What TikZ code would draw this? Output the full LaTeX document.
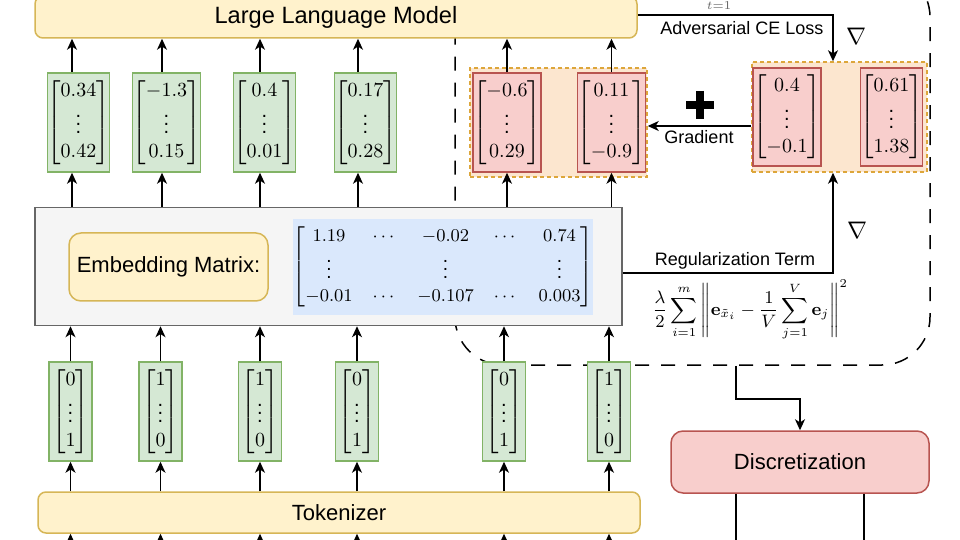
\documentclass[tikz,border=0pt]{standalone}
\usepackage{amsmath,amssymb}
\usepackage[no-math]{fontspec}
\setmainfont{Liberation Sans}
\usetikzlibrary{arrows.meta,calc}
\definecolor{yfill}{HTML}{FFF2CC}\definecolor{ydraw}{HTML}{D6B656}
\definecolor{gfill}{HTML}{D5E8D4}\definecolor{gdraw}{HTML}{82B366}
\definecolor{rfill}{HTML}{F8CECC}\definecolor{rdraw}{HTML}{B85450}
\definecolor{ofill}{HTML}{FCE6CF}\definecolor{odraw}{HTML}{DDA63A}
\definecolor{bfill}{HTML}{DAE8FC}
\definecolor{efill}{HTML}{F5F5F5}\definecolor{edraw}{HTML}{666666}
\newcommand{\vmath}[1]{{\fontsize{10}{12}\selectfont$#1$}}
\begin{document}
\begin{tikzpicture}[x=0.5pt,y=-0.5pt,
  >={Stealth[length=5.5pt,width=5pt,inset=1.6pt]},
  box/.style={draw, line width=0.75pt, inner sep=0pt, align=center},
  ybox/.style={box, fill=yfill, draw=ydraw, rounded corners=4pt, font=\fontsize{11}{13}\selectfont},
  gvec/.style={box, fill=gfill, draw=gdraw, minimum width=30.5pt, minimum height=49.5pt},
  ohvec/.style={box, fill=gfill, draw=gdraw, minimum width=21.5pt, minimum height=49.5pt},
  rvec/.style={box, fill=rfill, draw=rdraw, minimum width=30.5pt, minimum height=49.5pt},
  ogrp/.style={fill=ofill, draw=odraw, dash pattern=on 2pt off 1.5pt, line width=0.75pt, inner sep=0pt},
  lbl/.style={font=\fontsize{9}{11}\selectfont, inner sep=0pt},
  wire/.style={line width=0.75pt},
  conn/.style={->, line width=0.75pt},
  nab/.style={inner sep=0pt, font=\fontsize{13}{15}\selectfont},
]
\useasboundingbox (0,0) rectangle (960,540);
\clip (0,0) rectangle (960,540);
% dashed region
\node[draw, line width=0.75pt, dash pattern=on 7pt off 6pt, rounded corners=24pt,
      minimum width=237.5pt, minimum height=198pt, inner sep=0pt] (adv) at (692.5,167) {};
% main boxes
\node[ybox, minimum width=301pt, minimum height=21pt, font=\fontsize{11.8}{14}\selectfont] (llm) at (336,17) {Large Language Model};
\node[box, fill=efill, draw=edraw, minimum width=293.5pt, minimum height=59pt] (emb) at (328.5,266.5) {};
\node[ybox, rounded corners=6pt, minimum width=99.5pt, minimum height=34pt] (embl) at (168.5,267) {Embedding Matrix:};
\node[fill=bfill, minimum width=149pt, minimum height=48pt, inner sep=0pt] (mat) at (443,267)
  {{\fontsize{9.5}{11.4}\selectfont$\begin{bmatrix} 1.19 & \cdots & -0.02 & \cdots & 0.74\\ \vdots & & \vdots & & \vdots\\ -0.01 & \cdots & -0.107 & \cdots & 0.003 \end{bmatrix}$}};
\node[ybox, minimum width=301pt, minimum height=20.5pt] (tok) at (339,512.5) {Tokenizer};
\node[box, fill=rfill, draw=rdraw, rounded corners=6pt, minimum width=129pt, minimum height=31pt, font=\fontsize{11}{13}\selectfont] (disc) at (800,462) {Discretization};
% top green vectors
\node[gvec] (g1) at (78.5,122.5) {\vmath{\begin{bmatrix}0.34\\ \vdots\\ 0.42\end{bmatrix}}};
\node[gvec] (g2) at (166.5,122.5) {\vmath{\begin{bmatrix}-1.3\\ \vdots\\ 0.15\end{bmatrix}}};
\node[gvec] (g3) at (264.5,122.5) {\vmath{\begin{bmatrix}0.4\\ \vdots\\ 0.01\end{bmatrix}}};
\node[gvec] (g4) at (365.5,122.5) {\vmath{\begin{bmatrix}0.17\\ \vdots\\ 0.28\end{bmatrix}}};
% one-hot vectors
\node[ohvec] (h1) at (70.5,411.5) {\vmath{\begin{bmatrix}0\\ \vdots\\ 1\end{bmatrix}}};
\node[ohvec] (h2) at (160.5,411.5) {\vmath{\begin{bmatrix}1\\ \vdots\\ 0\end{bmatrix}}};
\node[ohvec] (h3) at (260,411.5) {\vmath{\begin{bmatrix}1\\ \vdots\\ 0\end{bmatrix}}};
\node[ohvec] (h4) at (357,411.5) {\vmath{\begin{bmatrix}0\\ \vdots\\ 1\end{bmatrix}}};
\node[ohvec] (h5) at (504,411.5) {\vmath{\begin{bmatrix}0\\ \vdots\\ 1\end{bmatrix}}};
\node[ohvec] (h6) at (609,411.5) {\vmath{\begin{bmatrix}1\\ \vdots\\ 0\end{bmatrix}}};
% red groups
\node[ogrp, minimum width=88.5pt, minimum height=54.5pt] (grp1) at (558.5,122.5) {};
\node[rvec, minimum width=31pt] (r1) at (507,122.5) {\vmath{\begin{bmatrix}-0.6\\ \vdots\\ 0.29\end{bmatrix}}};
\node[rvec] (r2) at (611.5,122.5) {\vmath{\begin{bmatrix}0.11\\ \vdots\\ -0.9\end{bmatrix}}};
\node[ogrp, minimum width=87.5pt, minimum height=55pt] (grp2) at (839.5,117) {};
\node[rvec, minimum width=30pt, minimum height=49pt] (r3) at (787,117) {\vmath{\begin{bmatrix}0.4\\ \vdots\\ -0.1\end{bmatrix}}};
\node[rvec, minimum height=49pt] (r4) at (891.5,117) {\vmath{\begin{bmatrix}0.61\\ \vdots\\ 1.38\end{bmatrix}}};
% column coordinates
\coordinate (k1) at (72,0); \coordinate (k2) at (162,0); \coordinate (k3) at (260,0); \coordinate (k4) at (358,0);
\coordinate (in1) at (70.5,560); \coordinate (in2) at (160.5,560); \coordinate (in3) at (260,560);
\coordinate (in4) at (357,560); \coordinate (in5) at (504,560); \coordinate (in6) at (609,560);
% tokenizer inputs and one-hot arrows
\foreach \i in {1,...,6}{
  \draw[conn] (in\i) -- (tok.south -| in\i);
  \draw[conn] (tok.north -| h\i) -- (h\i.south);
  \draw[conn] (h\i.north) -- (emb.south -| h\i);
}
\foreach \i in {1,...,4}{
  \draw[conn] (emb.north -| k\i) -- (g\i.south -| k\i);
  \draw[conn] (g\i.north -| k\i) -- (llm.south -| k\i);
}
\draw[conn] (emb.north -| r1) -- (r1.south);
\draw[conn] (emb.north -| r2) -- (r2.south);
\draw[conn] (r1.north) -- (llm.south -| r1);
\draw[conn] (r2.north) -- (llm.south -| r2);
% adversarial loss
\coordinate (gx) at (833,0);
\coordinate (ay) at (0,15);
\draw[conn] (llm.east |- ay) -| (grp2.north -| gx);
\node[inner sep=0pt, font=\fontsize{6}{7}\selectfont, text=black!60] (tlbl) at (719,6) {$t{=}1$};
\node[lbl] (advl) at (742,28) {Adversarial CE Loss};
\node[nab] (nab1) at (856,36) {$\nabla$};
% gradient
\coordinate (gy) at (0,126);
\draw[conn] (grp2.west |- gy) -- (grp1.east |- gy);
\coordinate (plus) at (700,105);
\draw[line width=4pt] ($(plus)+(-14,0)$) -- ($(plus)+(14,0)$);
\draw[line width=4pt] ($(plus)+(0,-14)$) -- ($(plus)+(0,14)$);
\node[lbl] (gradl) at (699,137) {Gradient};
% regularization
\coordinate (ry) at (0,273);
\draw[conn] (emb.east |- ry) -| (grp2.south -| gx);
\node[lbl] (regl) at (735,261) {Regularization Term};
\node[nab] (nab2) at (857,230) {$\nabla$};
\node[inner sep=0pt] (form) at (750,310) {{\fontsize{9}{10.8}\selectfont$\displaystyle \frac{\lambda}{2}\sum_{i=1}^{m}\left\|\mathbf{e}_{\tilde{x}_i}-\frac{1}{V}\sum_{j=1}^{V}\mathbf{e}_j\right\|^2$}};
% discretization
\coordinate (dx) at (736,0);
\draw[conn] (adv.south -| dx) -- ++(0,33) -| (disc.north);
\coordinate (o1) at (736,560); \coordinate (o2) at (864,560);
\draw[wire] (disc.south -| o1) -- (o1);
\draw[wire] (disc.south -| o2) -- (o2);
\end{tikzpicture}
\end{document}
